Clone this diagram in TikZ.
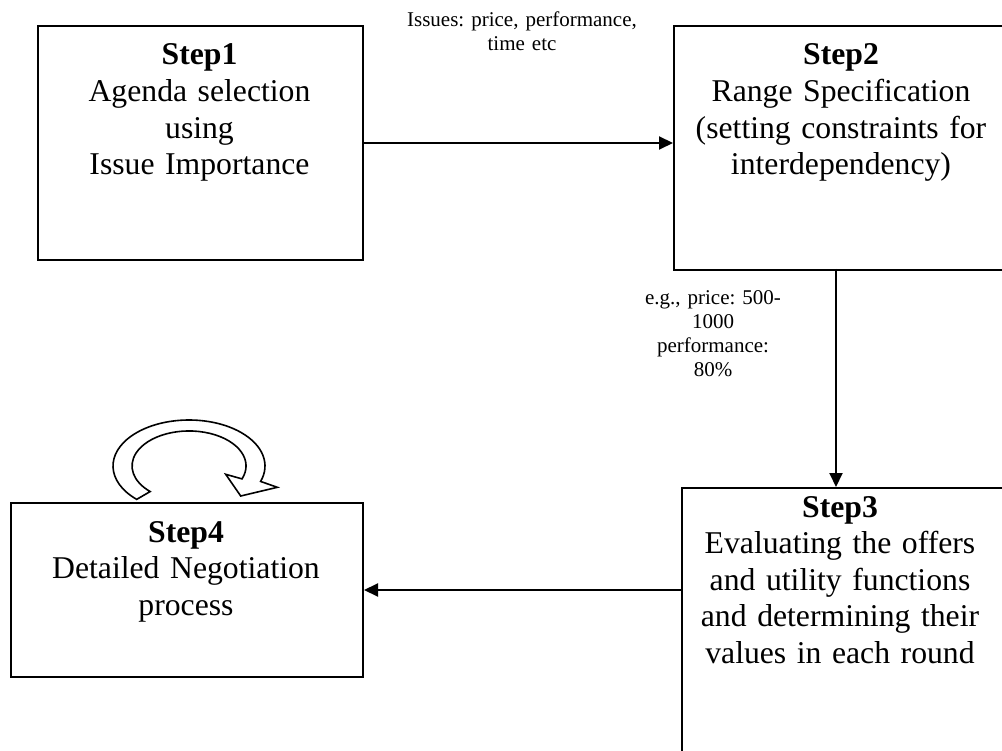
\documentclass[tikz,border=0pt]{standalone}
\usepackage{fontspec}
\setmainfont{Liberation Serif}
\usetikzlibrary{arrows.meta}
\tikzset{
  box/.style={draw, line width=2pt, rectangle, inner sep=0pt, anchor=north west},
  boxtext/.style={align=center, inner sep=0pt, anchor=base, font=\fontsize{31.7}{36.6}\selectfont\frenchspacing, text width=#1},
  lbl/.style={align=center, inner sep=0pt, anchor=base, font=\fontsize{21}{24}\selectfont\frenchspacing, text width=#1},
  conn/.style={line width=2pt, -{Triangle[length=14pt, width=13pt]}},
  looparrow/.style={draw, line width=1.6pt, fill=white, line join=miter}
}
\begin{document}
\begin{tikzpicture}[x=1pt, y=-1pt]
\useasboundingbox (0,0) rectangle (1002,751);
\clip (0,0) rectangle (1002,751);
% boxes
\node[box, minimum width=325pt, minimum height=234pt] (b1) at (37,25) {};
\node[box, minimum width=337pt, minimum height=244pt] (b2) at (673,25) {};
\node[box, minimum width=330pt, minimum height=290pt] (b3) at (681,487) {};
\node[box, minimum width=352pt, minimum height=174pt] (b4) at (10,502) {};
% box texts
\node[boxtext=330pt] (t1) at (199.5,65) {\textbf{Step1}\\Agenda selection\\using\\Issue Importance};
\node[boxtext=330pt] (t2) at (841,65) {\textbf{Step2}\\Range Specification\\(setting constraints for\\interdependency)};
\node[boxtext=330pt] (t3) at (840,517) {\textbf{Step3}\\Evaluating the offers\\and utility functions\\and determining their\\values in each round};
\node[boxtext=340pt] (t4) at (186,542) {\textbf{Step4}\\Detailed Negotiation\\process};
% connectors
\draw[conn] (b1.east) -- (b1.east -| b2.west);
\coordinate (c2) at (836,269);
\draw[conn] (c2) -- (c2 |- b3.north);
\draw[conn] (b3.west |- b4.east) -- (b4.east);
% labels
\node[lbl=260pt] (l1) at (522,27) {Issues: price, performance,\\time etc};
\node[lbl=170pt] (l2) at (713,305) {e.g., price: 500-\\1000\\performance:\\80\%};
% loop arrow on step 4
\path[looparrow] (189,466) ++(133.5:76 and 46)
  arc[start angle=133.5, end angle=379.6, x radius=76, y radius=46]
  -- (277.3,487.3) -- (240.7,496) -- (225.7,474.3) -- (242,478.9)
  arc[start angle=381.7, end angle=133, x radius=57, y radius=35]
  -- cycle;
\end{tikzpicture}
\end{document}
